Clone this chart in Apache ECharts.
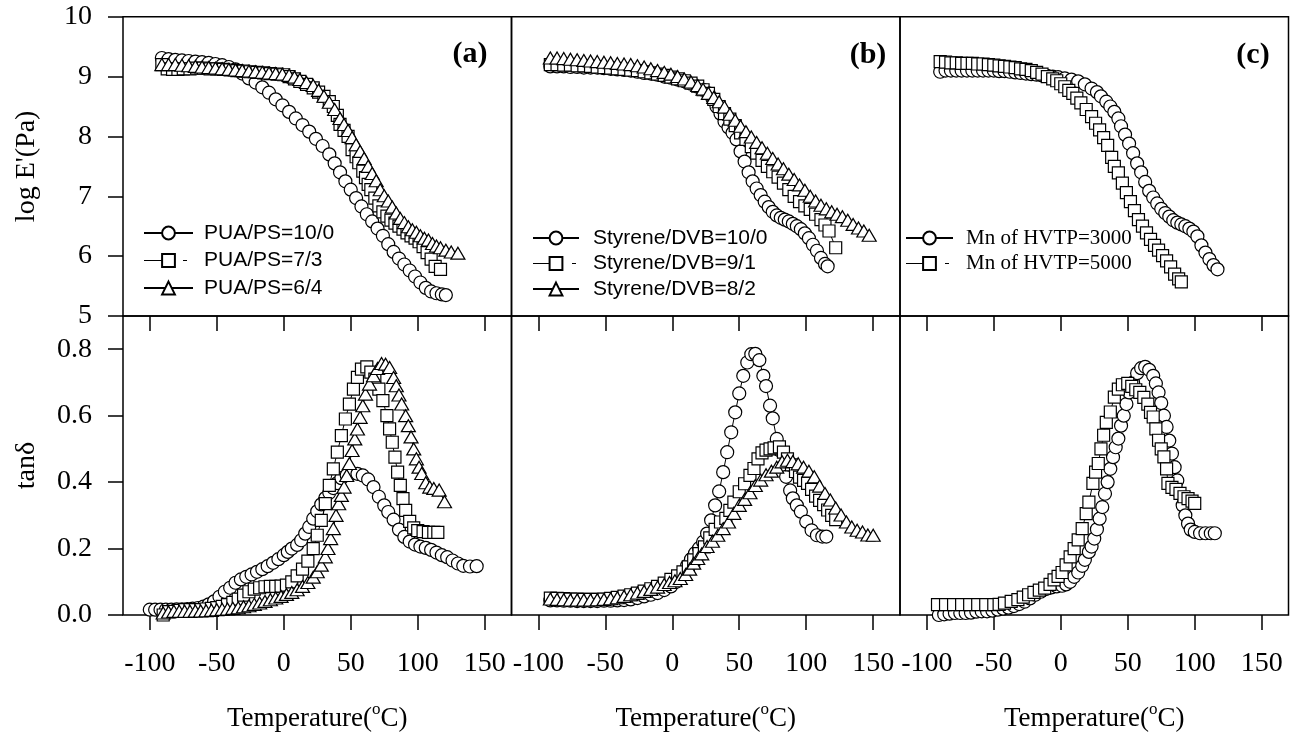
<!DOCTYPE html>
<html><head><meta charset="utf-8">
<script src="https://cdn.jsdelivr.net/npm/echarts@6/dist/echarts.min.js"></script>
<style>html,body{margin:0;padding:0;background:#fff}#c{width:1295px;height:738px}</style>
</head><body><div id="c"></div>
<script>
// ---------- DATA (Temperature °C, value) ----------
const xTicks = [-100, -50, 0, 50, 100, 150];
const yTicksE = [5, 6, 7, 8, 9, 10];
const yTicksTan = [0, 0.2, 0.4, 0.6, 0.8];
const panelLabels = ['(a)', '(b)', '(c)'];
const namesA = ['PUA/PS=10/0', 'PUA/PS=7/3', 'PUA/PS=6/4'];
const namesB = ['Styrene/DVB=10/0', 'Styrene/DVB=9/1', 'Styrene/DVB=8/2'];
const namesC = ['Mn of HVTP=3000', 'Mn of HVTP=5000'];

// panel (a) log E'
const aE_c = [[-91,9.31],[-86,9.29],[-81,9.28],[-76,9.27],[-71,9.26],[-66,9.25],[-61,9.24],[-56,9.23],[-51,9.21],[-46,9.19],[-41,9.16],[-36,9.12],[-31,9.05],[-26,8.97],[-21,8.9],[-16,8.82],[-11,8.73],[-6,8.62],[-1,8.52],[4,8.41],[9,8.3],[14,8.19],[19,8.08],[24,7.96],[29,7.84],[34,7.7],[38,7.55],[42,7.4],[46,7.25],[50,7.11],[54,6.97],[58,6.83],[62,6.7],[66,6.58],[70,6.46],[74,6.34],[78,6.2],[82,6.07],[86,5.96],[90,5.86],[94,5.76],[98,5.66],[102,5.56],[106,5.47],[110,5.41],[114,5.38],[118,5.36],[121,5.35]];
const aE_s = [[-91,9.2],[-87,9.13],[-83,9.12],[-79,9.12],[-75,9.13],[-70,9.13],[-65,9.14],[-60,9.14],[-55,9.13],[-50,9.13],[-45,9.12],[-40,9.11],[-35,9.1],[-30,9.09],[-25,9.08],[-20,9.07],[-15,9.06],[-10,9.05],[-5,9.04],[0,9.03],[4,9.0],[8,8.96],[12,8.92],[17,8.87],[22,8.81],[26,8.74],[30,8.67],[34,8.58],[37,8.5],[40,8.35],[42,8.2],[45,8.1],[48,8.0],[51,7.78],[54,7.66],[56,7.56],[59,7.42],[61,7.31],[63,7.2],[65,7.11],[68,6.97],[71,6.84],[74,6.74],[77,6.67],[80,6.6],[83,6.55],[86,6.5],[89,6.45],[92,6.39],[95,6.34],[98,6.3],[101,6.24],[104,6.16],[107,6.06],[110,5.95],[113,5.83],[117,5.78]];
const aE_t = [[-91,9.2],[-86,9.2],[-81,9.2],[-76,9.19],[-71,9.18],[-66,9.17],[-61,9.16],[-56,9.15],[-51,9.14],[-46,9.13],[-41,9.12],[-36,9.11],[-31,9.1],[-26,9.09],[-21,9.08],[-16,9.07],[-11,9.06],[-6,9.05],[-1,9.04],[4,9.02],[8,8.99],[12,8.95],[17,8.9],[22,8.85],[26,8.77],[30,8.67],[34,8.57],[38,8.45],[42,8.3],[45,8.2],[48,8.1],[51,7.98],[54,7.86],[57,7.75],[60,7.63],[63,7.5],[66,7.38],[69,7.26],[72,7.11],[75,7.01],[78,6.92],[81,6.82],[84,6.72],[87,6.63],[90,6.56],[93,6.49],[96,6.44],[99,6.4],[102,6.34],[105,6.3],[108,6.27],[111,6.21],[114,6.17],[117,6.14],[121,6.1],[125,6.07],[130,6.05]];
// panel (b) log E'
const bE_c = [[-91,9.17],[-86,9.17],[-81,9.17],[-76,9.16],[-71,9.16],[-66,9.15],[-61,9.15],[-56,9.15],[-51,9.14],[-46,9.13],[-41,9.12],[-36,9.11],[-31,9.1],[-26,9.08],[-21,9.06],[-16,9.05],[-11,9.03],[-6,9.0],[-1,8.98],[4,8.95],[9,8.92],[14,8.88],[19,8.83],[23,8.78],[27,8.72],[30,8.63],[33,8.5],[36,8.38],[39,8.25],[42,8.15],[45,8.06],[48,7.95],[51,7.75],[54,7.58],[57,7.4],[60,7.25],[63,7.13],[66,7.02],[69,6.91],[72,6.82],[75,6.74],[78,6.68],[81,6.64],[84,6.61],[87,6.58],[90,6.54],[93,6.5],[96,6.45],[99,6.38],[102,6.3],[105,6.19],[108,6.09],[111,5.97],[114,5.87],[116,5.83]];
const bE_s = [[-91,9.2],[-86,9.2],[-81,9.19],[-76,9.19],[-71,9.18],[-66,9.18],[-61,9.17],[-56,9.16],[-51,9.15],[-46,9.14],[-41,9.13],[-36,9.12],[-31,9.11],[-26,9.1],[-21,9.08],[-16,9.06],[-11,9.04],[-6,9.02],[-1,8.99],[4,8.96],[9,8.93],[14,8.89],[19,8.84],[23,8.78],[27,8.72],[31,8.62],[35,8.5],[39,8.38],[43,8.29],[47,8.18],[51,8.06],[55,7.95],[59,7.83],[63,7.72],[67,7.6],[71,7.5],[75,7.41],[79,7.32],[83,7.22],[87,7.11],[91,7.0],[95,6.91],[99,6.84],[103,6.78],[107,6.7],[111,6.61],[114,6.52],[117,6.42],[122,6.14]];
const bE_t = [[-91,9.31],[-86,9.31],[-81,9.3],[-76,9.29],[-71,9.28],[-66,9.27],[-61,9.26],[-56,9.25],[-51,9.24],[-46,9.23],[-41,9.22],[-36,9.21],[-31,9.2],[-26,9.18],[-21,9.16],[-16,9.13],[-11,9.1],[-6,9.07],[-1,9.04],[4,9.0],[9,8.96],[14,8.91],[19,8.85],[23,8.79],[27,8.72],[31,8.65],[35,8.58],[39,8.49],[43,8.37],[47,8.27],[51,8.17],[55,8.08],[59,7.99],[63,7.9],[67,7.81],[71,7.72],[75,7.63],[79,7.54],[83,7.46],[87,7.37],[91,7.28],[95,7.19],[99,7.1],[103,7.0],[107,6.92],[111,6.85],[115,6.79],[119,6.74],[123,6.7],[127,6.66],[131,6.6],[135,6.53],[139,6.47],[143,6.42],[147,6.35]];
// panel (c) log E'
const cE_c = [[-90,9.08],[-86,9.1],[-82,9.1],[-78,9.1],[-74,9.1],[-70,9.1],[-66,9.1],[-62,9.1],[-58,9.1],[-54,9.1],[-50,9.1],[-46,9.09],[-42,9.09],[-38,9.08],[-34,9.07],[-30,9.06],[-26,9.05],[-22,9.04],[-18,9.03],[-14,9.02],[-10,9.01],[-6,9.0],[-2,8.99],[3,8.97],[8,8.95],[13,8.92],[18,8.87],[23,8.8],[27,8.74],[30,8.67],[34,8.58],[37,8.5],[40,8.41],[43,8.3],[45,8.17],[48,8.03],[51,7.88],[54,7.72],[57,7.55],[60,7.4],[63,7.24],[66,7.09],[69,6.98],[72,6.88],[75,6.79],[78,6.72],[81,6.66],[84,6.6],[87,6.56],[90,6.53],[93,6.5],[96,6.46],[99,6.41],[102,6.33],[105,6.18],[108,6.06],[111,5.95],[114,5.85],[117,5.78]];
const cE_s = [[-90,9.25],[-86,9.24],[-82,9.23],[-78,9.23],[-74,9.22],[-70,9.22],[-66,9.22],[-62,9.21],[-58,9.21],[-54,9.2],[-50,9.19],[-46,9.18],[-42,9.17],[-38,9.16],[-34,9.15],[-30,9.13],[-26,9.12],[-22,9.1],[-18,9.07],[-14,9.04],[-10,9.0],[-6,8.96],[-3,8.93],[0,8.88],[3,8.83],[6,8.77],[9,8.72],[12,8.64],[15,8.56],[19,8.45],[23,8.33],[26,8.22],[29,8.11],[32,7.98],[35,7.85],[38,7.65],[40,7.5],[43,7.39],[46,7.22],[49,7.06],[52,6.91],[55,6.76],[58,6.61],[61,6.5],[64,6.39],[67,6.28],[70,6.18],[73,6.1],[76,6.01],[79,5.92],[82,5.82],[85,5.7],[88,5.62],[90,5.57]];

// panel (a) tan delta
const aT_c = [[-100,0.016],[-96,0.016],[-92,0.016],[-88,0.016],[-84,0.016],[-80,0.017],[-76,0.017],[-72,0.018],[-68,0.019],[-64,0.021],[-60,0.025],[-56,0.032],[-52,0.041],[-48,0.055],[-44,0.07],[-40,0.082],[-36,0.097],[-32,0.107],[-28,0.115],[-24,0.122],[-20,0.13],[-16,0.138],[-12,0.147],[-8,0.157],[-4,0.168],[0,0.18],[3,0.19],[6,0.2],[10,0.211],[13,0.225],[16,0.245],[19,0.265],[22,0.29],[25,0.312],[28,0.333],[31,0.352],[34,0.368],[37,0.382],[40,0.397],[43,0.412],[47,0.421],[51,0.426],[55,0.425],[59,0.42],[63,0.408],[67,0.385],[71,0.356],[75,0.33],[78,0.31],[82,0.287],[86,0.257],[90,0.235],[94,0.221],[98,0.212],[102,0.206],[106,0.202],[110,0.196],[114,0.188],[118,0.18],[122,0.174],[126,0.164],[130,0.155],[134,0.148],[139,0.146],[144,0.147]];
const aT_s = [[-90,0.0],[-86,0.01],[-82,0.011],[-78,0.014],[-74,0.016],[-70,0.016],[-66,0.016],[-62,0.016],[-58,0.018],[-54,0.02],[-50,0.022],[-46,0.026],[-42,0.031],[-38,0.038],[-34,0.048],[-30,0.06],[-26,0.07],[-22,0.078],[-18,0.082],[-14,0.085],[-10,0.086],[-6,0.086],[-2,0.087],[2,0.09],[6,0.1],[10,0.118],[14,0.138],[18,0.162],[22,0.2],[25,0.24],[28,0.285],[31,0.335],[34,0.39],[37,0.44],[40,0.49],[43,0.54],[46,0.59],[49,0.635],[52,0.68],[55,0.715],[58,0.74],[62,0.747],[65,0.731],[68,0.71],[71,0.68],[74,0.645],[77,0.6],[79,0.56],[81,0.52],[83,0.475],[85,0.43],[87,0.39],[89,0.35],[91,0.315],[94,0.282],[97,0.262],[100,0.254],[104,0.251],[108,0.249],[112,0.249],[115,0.249]];
const aT_t = [[-90,0.006],[-86,0.009],[-82,0.011],[-78,0.011],[-74,0.011],[-70,0.011],[-66,0.012],[-62,0.012],[-58,0.013],[-54,0.014],[-50,0.016],[-46,0.017],[-42,0.018],[-38,0.02],[-34,0.022],[-30,0.025],[-26,0.028],[-22,0.032],[-18,0.036],[-14,0.041],[-10,0.046],[-6,0.051],[-2,0.056],[2,0.062],[6,0.068],[10,0.076],[14,0.086],[18,0.098],[22,0.114],[25,0.13],[28,0.15],[31,0.175],[33,0.2],[35,0.23],[37,0.26],[39,0.3],[41,0.335],[43,0.36],[45,0.385],[47,0.42],[49,0.456],[51,0.495],[53,0.53],[55,0.56],[57,0.595],[59,0.63],[61,0.665],[64,0.695],[67,0.72],[70,0.742],[73,0.757],[76,0.755],[79,0.745],[82,0.715],[84,0.69],[86,0.662],[88,0.635],[91,0.6],[93,0.57],[95,0.536],[97,0.5],[99,0.47],[101,0.445],[103,0.426],[106,0.398],[109,0.385],[112,0.381],[116,0.376],[120,0.341]];
// panel (b) tan delta
const bT_c = [[-91,0.044],[-86,0.044],[-81,0.043],[-76,0.043],[-71,0.042],[-66,0.042],[-61,0.042],[-56,0.042],[-51,0.043],[-46,0.043],[-41,0.044],[-36,0.045],[-31,0.047],[-26,0.051],[-21,0.056],[-16,0.061],[-11,0.066],[-6,0.075],[-1,0.086],[3,0.1],[7,0.122],[11,0.148],[14,0.168],[17,0.186],[20,0.201],[23,0.22],[26,0.245],[29,0.285],[32,0.33],[35,0.372],[38,0.43],[41,0.49],[44,0.55],[47,0.61],[50,0.667],[53,0.72],[56,0.76],[59,0.785],[62,0.786],[65,0.767],[68,0.72],[70,0.689],[73,0.63],[75,0.592],[78,0.53],[80,0.496],[83,0.445],[85,0.416],[88,0.375],[90,0.351],[93,0.33],[96,0.311],[100,0.281],[104,0.255],[108,0.24],[112,0.236],[115,0.236]];
const bT_s = [[-91,0.051],[-86,0.05],[-81,0.049],[-76,0.048],[-71,0.048],[-66,0.047],[-61,0.047],[-56,0.047],[-51,0.048],[-46,0.05],[-41,0.053],[-36,0.057],[-31,0.061],[-26,0.066],[-21,0.072],[-16,0.079],[-11,0.086],[-6,0.096],[-1,0.107],[4,0.118],[8,0.13],[12,0.145],[16,0.166],[20,0.185],[24,0.205],[28,0.232],[32,0.258],[36,0.28],[40,0.291],[43,0.315],[46,0.34],[50,0.371],[54,0.395],[58,0.42],[61,0.441],[64,0.47],[67,0.488],[70,0.496],[73,0.5],[76,0.503],[80,0.506],[83,0.49],[86,0.47],[89,0.452],[92,0.432],[95,0.415],[98,0.405],[101,0.396],[104,0.378],[107,0.358],[110,0.345],[113,0.332],[116,0.316],[119,0.3],[122,0.287]];
const bT_t = [[-91,0.048],[-86,0.047],[-81,0.046],[-76,0.045],[-71,0.045],[-66,0.045],[-61,0.045],[-56,0.046],[-51,0.047],[-46,0.049],[-41,0.052],[-36,0.056],[-31,0.061],[-26,0.066],[-21,0.071],[-16,0.077],[-11,0.084],[-6,0.092],[-2,0.098],[2,0.103],[6,0.11],[10,0.122],[13,0.138],[16,0.156],[19,0.17],[22,0.184],[26,0.206],[30,0.222],[34,0.24],[38,0.26],[42,0.28],[46,0.306],[50,0.33],[54,0.348],[58,0.368],[62,0.39],[66,0.406],[70,0.422],[74,0.433],[78,0.445],[82,0.461],[86,0.466],[90,0.462],[94,0.455],[98,0.445],[102,0.433],[106,0.416],[110,0.388],[114,0.366],[118,0.346],[122,0.322],[126,0.301],[130,0.28],[134,0.265],[138,0.255],[142,0.25],[146,0.241],[150,0.24]];
// panel (c) tan delta
const cT_c = [[-91,0.0],[-87,0.002],[-83,0.004],[-79,0.006],[-75,0.006],[-71,0.006],[-67,0.007],[-63,0.01],[-59,0.011],[-55,0.011],[-51,0.013],[-47,0.016],[-43,0.019],[-39,0.022],[-35,0.027],[-31,0.033],[-27,0.04],[-23,0.05],[-19,0.061],[-15,0.07],[-11,0.078],[-7,0.083],[-3,0.086],[1,0.088],[4,0.092],[7,0.1],[10,0.115],[13,0.128],[16,0.148],[18,0.166],[21,0.19],[23,0.206],[25,0.23],[27,0.258],[29,0.29],[31,0.325],[33,0.365],[35,0.4],[37,0.44],[39,0.475],[41,0.505],[43,0.531],[45,0.57],[47,0.6],[49,0.635],[51,0.67],[54,0.7],[57,0.728],[60,0.743],[63,0.747],[66,0.738],[69,0.72],[71,0.697],[73,0.67],[75,0.638],[77,0.6],[79,0.566],[81,0.525],[83,0.486],[85,0.445],[87,0.405],[89,0.365],[91,0.33],[93,0.3],[95,0.275],[97,0.257],[100,0.25],[104,0.246],[108,0.246],[112,0.246],[115,0.246]];
const cT_s = [[-92,0.031],[-86,0.031],[-80,0.031],[-74,0.031],[-68,0.031],[-62,0.031],[-56,0.031],[-50,0.031],[-46,0.032],[-42,0.036],[-37,0.041],[-32,0.046],[-28,0.054],[-24,0.061],[-20,0.068],[-16,0.075],[-12,0.081],[-8,0.092],[-5,0.106],[-2,0.116],[1,0.128],[4,0.151],[7,0.175],[10,0.2],[13,0.226],[16,0.26],[19,0.305],[21,0.34],[24,0.396],[26,0.43],[28,0.456],[30,0.5],[32,0.541],[34,0.58],[37,0.611],[40,0.656],[43,0.68],[46,0.693],[50,0.697],[53,0.688],[56,0.678],[59,0.67],[62,0.655],[65,0.635],[67,0.61],[69,0.596],[71,0.56],[73,0.526],[75,0.5],[77,0.476],[79,0.44],[80,0.396],[83,0.384],[86,0.378],[89,0.366],[92,0.356],[95,0.35],[98,0.343],[100,0.336]];

// ---------- LAYOUT ----------
const SERIF = '"Liberation Serif", "Times New Roman", serif';
const SANS = '"Liberation Sans", Arial, sans-serif';
const colL = [123, 511.5, 900];
const colW = 388.5;
const rowT = [16.7, 316];
const rowH = 299.3;
const BLK = '#000';

const grids = [];
for (let r = 0; r < 2; r++) for (let c = 0; c < 3; c++) {
  grids.push({left: colL[c], top: rowT[r], width: colW, height: rowH, show: true,
    borderColor: BLK, borderWidth: 1.5, backgroundColor: 'transparent', containLabel: false});
}

const xAxes = [];
// top-row x axes (hidden)
for (let c = 0; c < 3; c++) xAxes.push({type: 'value', gridIndex: c, min: -120, max: 170, show: false});
// bottom-row x axes (labels + outward ticks + name)
for (let c = 0; c < 3; c++) xAxes.push({
  type: 'value', gridIndex: 3 + c, min: -120, max: 170, position: 'bottom',
  axisLine: {show: false, onZero: false}, splitLine: {show: false},
  axisTick: {show: true, inside: false, length: 15, customValues: xTicks, lineStyle: {color: BLK, width: 1.5}},
  axisLabel: {customValues: xTicks, fontFamily: SERIF, fontSize: 28, color: BLK, margin: 35},
  name: 'Temperature({sup|o}C)', nameLocation: 'middle', nameGap: 86,
  nameTextStyle: {fontFamily: SERIF, fontSize: 27, color: BLK, lineHeight: 36,
    rich: {sup: {fontFamily: SERIF, fontSize: 17, color: BLK, verticalAlign: 'top', lineHeight: 17}}}
});
// bottom-row mirrored top axes (inward ticks)
for (let c = 0; c < 3; c++) xAxes.push({
  type: 'value', gridIndex: 3 + c, min: -120, max: 170, position: 'top',
  axisLine: {show: false, onZero: false}, splitLine: {show: false}, axisLabel: {show: false},
  axisTick: {show: true, inside: true, length: 15, customValues: xTicks, lineStyle: {color: BLK, width: 1.5}}
});

const yAxes = [];
for (let c = 0; c < 3; c++) {
  const base = {type: 'value', gridIndex: c, min: 5, max: 10, interval: 1, splitLine: {show: false},
    axisLine: {show: false, onZero: false}};
  if (c === 0) Object.assign(base, {
    axisTick: {show: true, inside: false, length: 15, lineStyle: {color: BLK, width: 1.5}},
    axisLabel: {fontFamily: SERIF, fontSize: 28, color: BLK, margin: 31},
    name: "log E'(Pa)", nameLocation: 'middle', nameRotate: 90, nameGap: 82,
    nameTextStyle: {fontFamily: SERIF, fontSize: 28, color: BLK}
  }); else base.show = false;
  yAxes.push(base);
}
for (let c = 0; c < 3; c++) {
  const base = {type: 'value', gridIndex: 3 + c, min: 0, max: 0.9, splitLine: {show: false},
    axisLine: {show: false, onZero: false}};
  if (c === 0) Object.assign(base, {
    axisTick: {show: true, inside: false, length: 15, customValues: yTicksTan, lineStyle: {color: BLK, width: 1.5}},
    axisLabel: {customValues: yTicksTan, fontFamily: SERIF, fontSize: 28, color: BLK, margin: 31,
      formatter: v => v.toFixed(1)},
    name: 'tanδ', nameLocation: 'middle', nameRotate: 90, nameGap: 82,
    nameTextStyle: {fontFamily: SERIF, fontSize: 28, color: BLK}
  }); else base.show = false;
  yAxes.push(base);
}

const SYM = {circle: ['circle', 13], rect: ['rect', 12], triangle: ['triangle', [14, 12]]};
function mk(name, data, sym, idx) {
  return {
    type: 'line', name: name, data: data, xAxisIndex: idx, yAxisIndex: idx,
    symbol: SYM[sym][0], symbolSize: SYM[sym][1], showAllSymbol: true,
    lineStyle: {color: BLK, width: 1}, itemStyle: {color: '#fff', borderColor: BLK, borderWidth: 1.2},
    emphasis: {disabled: true}, silent: true, animation: false, clip: false
  };
}
const series = [
  mk(namesA[0], aE_c, 'circle', 0), mk(namesA[1], aE_s, 'rect', 0), mk(namesA[2], aE_t, 'triangle', 0),
  mk(namesB[0], bE_c, 'circle', 1), mk(namesB[1], bE_s, 'rect', 1), mk(namesB[2], bE_t, 'triangle', 1),
  mk(namesC[0], cE_c, 'circle', 2), mk(namesC[1], cE_s, 'rect', 2),
  mk(namesA[0], aT_c, 'circle', 3), mk(namesA[1], aT_s, 'rect', 3), mk(namesA[2], aT_t, 'triangle', 3),
  mk(namesB[0], bT_c, 'circle', 4), mk(namesB[1], bT_s, 'rect', 4), mk(namesB[2], bT_t, 'triangle', 4),
  mk(namesC[0], cT_c, 'circle', 5), mk(namesC[1], cT_s, 'rect', 5)
];

const dashed = {type: [19, 20, 4, 40], color: BLK, width: 1};
function legendData(names) {
  return names.map((n, i) => i === 1 ? {name: n, lineStyle: dashed} : {name: n});
}
const legends = [
  {data: legendData(namesA), orient: 'vertical', left: 143, top: 222.5, padding: 0, itemWidth: 49, itemHeight: 16, itemGap: 6.5,
   textStyle: {fontFamily: SANS, fontSize: 21, color: BLK, padding: [0, 0, 0, 6]}, selectedMode: false},
  {data: legendData(namesB), orient: 'vertical', left: 532, top: 227.5, padding: 0, itemWidth: 46, itemHeight: 16, itemGap: 4.5,
   textStyle: {fontFamily: SANS, fontSize: 21, color: BLK, padding: [0, 0, 0, 9]}, selectedMode: false},
  {data: legendData(namesC), orient: 'vertical', left: 905, top: 227.5, padding: 0, itemWidth: 47, itemHeight: 16, itemGap: 4.5,
   textStyle: {fontFamily: SERIF, fontSize: 21, color: BLK, padding: [0, 0, 0, 8]}, selectedMode: false}
];

const labelPos = [[470, 54], [868, 55], [1253, 55]];
const graphics = panelLabels.map((t, i) => ({
  type: 'text', x: labelPos[i][0], y: labelPos[i][1], silent: true,
  style: {text: t, font: 'bold 30px ' + SERIF, fill: BLK, align: 'center', verticalAlign: 'middle'}
}));

const chart = echarts.init(document.getElementById('c'), null, {renderer: 'canvas'});
chart.setOption({
  animation: false, backgroundColor: '#fff',
  grid: grids, xAxis: xAxes, yAxis: yAxes, series: series, legend: legends, graphic: graphics
});
</script></body></html>
